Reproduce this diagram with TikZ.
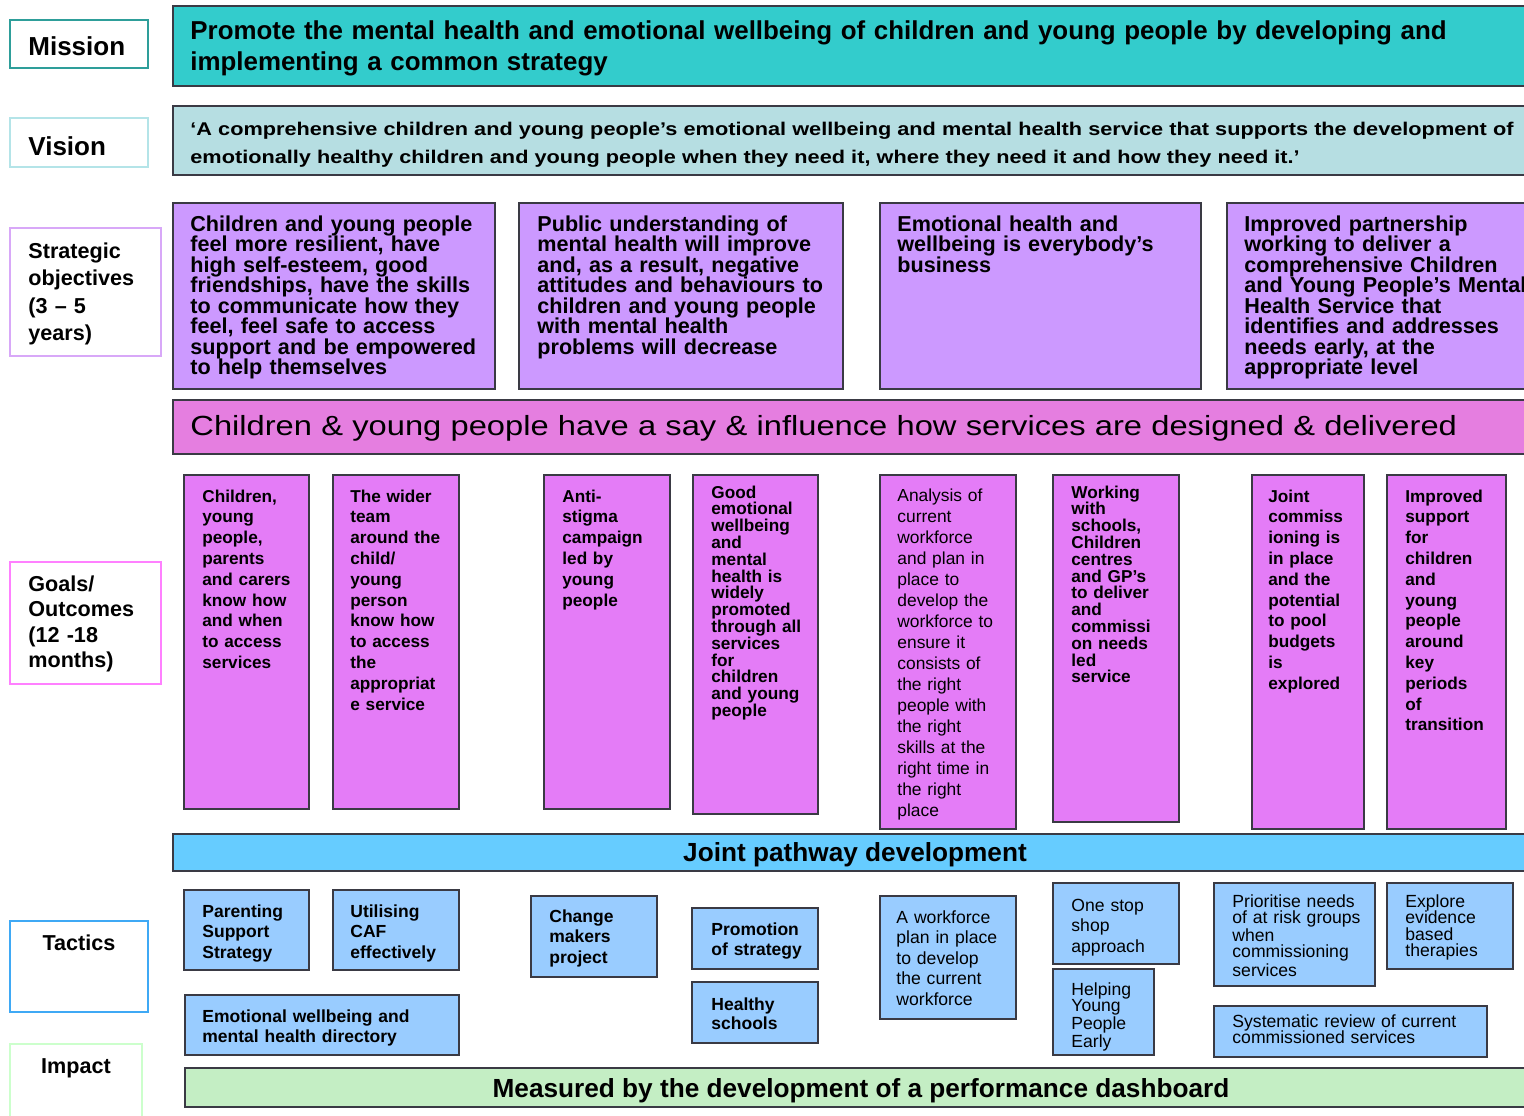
\documentclass[tikz,border=0pt]{standalone}
\usepackage{fontspec}
\setmainfont{Liberation Sans}
\newfontfamily\widesf[FakeStretch=1.18]{Liberation Sans}
\usepackage{tikz}

\definecolor{tileedge}{HTML}{3A3A44}
\definecolor{missionfill}{HTML}{33CCCC}
\definecolor{missionedge}{HTML}{2E9E9A}
\definecolor{visionfill}{HTML}{B6DEE2}
\definecolor{visionedge}{HTML}{B4E4E8}
\definecolor{sofill}{HTML}{CC99FF}
\definecolor{soedge}{HTML}{D8A8F8}
\definecolor{sayfill}{HTML}{E57EE0}
\definecolor{goalfill}{HTML}{E47CF7}
\definecolor{goaledge}{HTML}{FF80FF}
\definecolor{jointfill}{HTML}{66CCFF}
\definecolor{tacfill}{HTML}{99CCFF}
\definecolor{tacedge}{HTML}{3FA9F5}
\definecolor{impactfill}{HTML}{C4EEC4}
\definecolor{impactedge}{HTML}{CCFFCC}

\begin{document}
\begin{tikzpicture}[x=0.5pt, y=-0.5pt,
	tile/.style={draw=tileedge, line width=0.8pt},
	tag/.style={line width=1.1pt, fill=white},
	txt/.style={anchor=base west, inner sep=0pt, align=left, text width=#1},
	txt/.default=150pt,
	tagbig/.style={font=\fontsize{13pt}{15.5pt}\selectfont\bfseries},
	tagsmall/.style={font=\fontsize{10.8pt}{13.8pt}\selectfont\bfseries},
	missionfont/.style={font=\fontsize{12.95pt}{15.5pt}\selectfont\bfseries},
	visionfont/.style={font=\widesf\fontsize{9.2pt}{14pt}\selectfont\bfseries},
	sofont/.style={font=\fontsize{10.8pt}{10.25pt}\selectfont\bfseries},
	sayfont/.style={font=\widesf\fontsize{13.85pt}{16pt}\selectfont},
	goalfont/.style={font=\fontsize{8.6pt}{10.4pt}\selectfont\bfseries},
	goaltight/.style={font=\fontsize{8.6pt}{8.4pt}\selectfont\bfseries},
	goalplain/.style={font=\fontsize{8.7pt}{10.5pt}\selectfont},
	barfont/.style={font=\fontsize{13.1pt}{15pt}\selectfont\bfseries},
	tacfont/.style={font=\fontsize{8.75pt}{10.3pt}\selectfont\bfseries},
	tacplain/.style={font=\fontsize{8.8pt}{#1}\selectfont},
	tacplain/.default=10.25pt]

					%%% Riquadro della pagina
					\useasboundingbox (0,0) rectangle (1524,1115);
%					\draw [thin, help lines] (0,0) grid[step=100] (1524,1115);

					%%% Etichette a sinistra
					\draw[tag, draw=missionedge] (10,20) rectangle (148,68);
					\node[txt, tagbig] (lmission) at (28,55) {Mission};
					\draw[tag, draw=visionedge] (10,118) rectangle (148,167);
					\node[txt, tagbig] (lvision) at (28,155) {Vision};
					\draw[tag, draw=soedge] (10,228) rectangle (161,356);
					\node[txt, tagsmall] (lso) at (28,258) {Strategic\\objectives\\(3 – 5\\years)};
					\draw[tag, draw=goaledge] (10,562) rectangle (161,684);
					\node[txt, tagsmall, font=\fontsize{10.8pt}{12.8pt}\selectfont\bfseries] (lgoal) at (28,591) {Goals/\\Outcomes\\(12 -18\\months)};
					\draw[tag, draw=tacedge] (10,921) rectangle (148,1012);
					\node[anchor=base, inner sep=0pt, tagsmall] (ltactics) at (79,950) {Tactics};
					\draw[tag, draw=impactedge] (10,1044) rectangle (142,1130);
					\node[anchor=base, inner sep=0pt, tagsmall] (limpact) at (76,1073) {Impact};

					%%% Missione e visione
					\draw[tile, fill=missionfill] (173,6) rectangle (1540,86);
					\node[txt=720pt, missionfont] (mission) at (190,39) {Promote the mental health and emotional wellbeing of children and young people by developing and\\implementing a common strategy};
					\draw[tile, fill=visionfill] (173,106) rectangle (1540,175);
					\node[txt=720pt, visionfont] (vision) at (190,135) {‘A comprehensive children and young people’s emotional wellbeing and mental health service that supports the development of\\emotionally healthy children and young people when they need it, where they need it and how they need it.’};

					%%% Obiettivi strategici
					\draw[tile, fill=sofill] (173,203) rectangle (495,389);
					\node[txt, sofont] (so1) at (190,231) {Children and young people\\feel more resilient, have\\high self-esteem, good\\friendships, have the skills\\to communicate how they\\feel, feel safe to access\\support and be empowered\\to help themselves};
					\draw[tile, fill=sofill] (519,203) rectangle (843,389);
					\node[txt, sofont] (so2) at (537,231) {Public understanding of\\mental health will improve\\and, as a result, negative\\attitudes and behaviours to\\children and young people\\with mental health\\problems will decrease};
					\draw[tile, fill=sofill] (880,203) rectangle (1201,389);
					\node[txt, sofont] (so3) at (897,231) {Emotional health and\\wellbeing is everybody’s\\business};
					\draw[tile, fill=sofill] (1227,203) rectangle (1540,389);
					\node[txt, sofont] (so4) at (1244,231) {Improved partnership\\working to deliver a\\comprehensive Children\\and Young People’s Mental\\Health Service that\\identifies and addresses\\needs early, at the\\appropriate level};

					%%% Barra "have a say"
					\draw[tile, fill=sayfill] (173,400) rectangle (1540,454);
					\node[txt=720pt, sayfont] (say) at (190,435) {Children \& young people have a say \& influence how services are designed \& delivered};

					%%% Obiettivi 12-18 mesi
					\draw[tile, fill=goalfill] (184,475) rectangle (309,809);
					\node[txt, goalfont] (g1) at (202,502) {Children,\\young\\people,\\parents\\and carers\\know how\\and when\\to access\\services};
					\draw[tile, fill=goalfill] (333,475) rectangle (459,809);
					\node[txt, goalfont] (g2) at (350,502) {The wider\\team\\around the\\child/\\young\\person\\know how\\to access\\the\\appropriat\\e service};
					\draw[tile, fill=goalfill] (544,475) rectangle (670,809);
					\node[txt, goalfont] (g3) at (562,502) {Anti-\\stigma\\campaign\\led by\\young\\people};
					\draw[tile, fill=goalfill] (693,475) rectangle (818,814);
					\node[txt, goaltight] (g4) at (711,498) {Good\\emotional\\wellbeing\\and\\mental\\health is\\widely\\promoted\\through all\\services\\for\\children\\and young\\people};
					\draw[tile, fill=goalfill] (880,475) rectangle (1016,829);
					\node[txt, goalplain] (g5) at (897,501) {Analysis of\\current\\workforce\\and plan in\\place to\\develop the\\workforce to\\ensure it\\consists of\\the right\\people with\\the right\\skills at the\\right time in\\the right\\place};
					\draw[tile, fill=goalfill] (1053,475) rectangle (1179,822);
					\node[txt, goaltight] (g6) at (1071,498) {Working\\with\\schools,\\Children\\centres\\and GP’s\\to deliver\\and\\commissi\\on needs\\led\\service};
					\draw[tile, fill=goalfill] (1252,475) rectangle (1364,829);
					\node[txt, goalfont] (g7) at (1268,502) {Joint\\commiss\\ioning is\\in place\\and the\\potential\\to pool\\budgets\\is\\explored};
					\draw[tile, fill=goalfill] (1387,475) rectangle (1506,829);
					\node[txt, goalfont] (g8) at (1405,502) {Improved\\support\\for\\children\\and\\young\\people\\around\\key\\periods\\of\\transition};

					%%% Percorso congiunto
					\draw[tile, fill=jointfill] (173,834) rectangle (1540,871);
					\node[anchor=base, inner sep=0pt, barfont] (joint) at (855,861) {Joint pathway development};

					%%% Tattiche
					\draw[tile, fill=tacfill] (184,890) rectangle (309,970);
					\node[txt, tacfont] (t1) at (202,917) {Parenting\\Support\\Strategy};
					\draw[tile, fill=tacfill] (333,890) rectangle (459,970);
					\node[txt, tacfont] (t2) at (350,917) {Utilising\\CAF\\effectively};
					\draw[tile, fill=tacfill] (531,896) rectangle (657,977);
					\node[txt, tacfont] (t3) at (549,922) {Change\\makers\\project};
					\draw[tile, fill=tacfill] (185,995) rectangle (459,1055);
					\node[txt, tacfont, font=\fontsize{8.75pt}{10pt}\selectfont\bfseries] (t11) at (202,1022) {Emotional wellbeing and\\mental health directory};
					\draw[tile, fill=tacfill] (692,908) rectangle (818,969);
					\node[txt, tacfont, font=\fontsize{8.75pt}{10pt}\selectfont\bfseries] (t4) at (711,935) {Promotion\\of strategy};
					\draw[tile, fill=tacfill] (692,982) rectangle (818,1043);
					\node[txt, tacfont, font=\fontsize{8.75pt}{9.8pt}\selectfont\bfseries] (t5) at (711,1010) {Healthy\\schools};
					\draw[tile, fill=tacfill] (880,896) rectangle (1016,1019);
					\node[txt, tacplain] (t6) at (896,923) {A workforce\\plan in place\\to develop\\the current\\workforce};
					\draw[tile, fill=tacfill] (1053,883) rectangle (1179,964);
					\node[txt, tacplain] (t7) at (1071,911) {One stop\\shop\\approach};
					\draw[tile, fill=tacfill] (1053,969) rectangle (1154,1055);
					\node[txt, tacplain=8pt] (t8) at (1071,995) {Helping\\Young\\People\\Early};
					\draw[tile, fill=tacfill] (1214,883) rectangle (1375,986);
					\node[txt, tacplain=8.1pt] (t9) at (1232,907) {Prioritise needs\\of at risk groups\\when\\commissioning\\services};
					\draw[tile, fill=tacfill] (1387,883) rectangle (1513,969);
					\node[txt, tacplain=8.3pt] (t10) at (1405,907) {Explore\\evidence\\based\\therapies};
					\draw[tile, fill=tacfill] (1214,1006) rectangle (1487,1057);
					\node[txt, tacplain=8.3pt] (t12) at (1232,1027) {Systematic review of current\\commissioned services};

					%%% Impatto
					\draw[tile, fill=impactfill] (185,1068) rectangle (1540,1107);
					\node[anchor=base, inner sep=0pt, barfont] (impact) at (861,1097) {Measured by the development of a performance dashboard};
\end{tikzpicture}
\end{document}
